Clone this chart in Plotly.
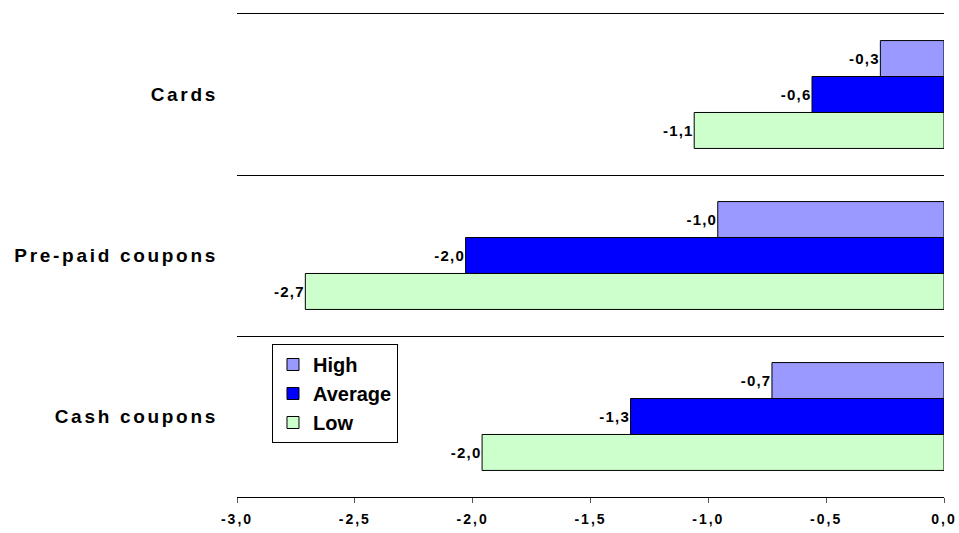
import plotly.graph_objects as go

categories = ["Cards", "Pre-paid coupons", "Cash coupons"]
series_names = ["High", "Average", "Low"]
high = [-0.27, -0.96, -0.73]
average = [-0.56, -2.03, -1.33]
low = [-1.06, -2.71, -1.96]
colors = ["#9999FF", "#0000FF", "#CCFFCC"]
x_ticks = [-3.0, -2.5, -2.0, -1.5, -1.0, -0.5, 0.0]


def fmt(v):
    return f"{v:.1f}".replace(".", ",")


FONT = "Arial, Liberation Sans, sans-serif"

fig = go.Figure()
for name, vals, col in zip(series_names, [high, average, low], colors):
    fig.add_trace(go.Bar(
        y=categories, x=vals, name=name, orientation="h",
        marker=dict(color=col, line=dict(color="black", width=1)),
        text=[fmt(v) for v in vals], textposition="outside",
        textfont=dict(family=FONT, size=15, color="black", weight="bold"),
        cliponaxis=False, legendgroup=name,
    ))

fig.update_layout(
    width=959, height=533,
    margin=dict(l=237, r=15, t=14, b=36, autoexpand=False),
    paper_bgcolor="white", plot_bgcolor="white",
    barmode="group", bargap=0.33, bargroupgap=0,
    font=dict(family=FONT, color="black"),
    legend=dict(
        x=0.0495, y=0.3168, xanchor="left", yanchor="top",
        bgcolor="white", bordercolor="black", borderwidth=1,
        font=dict(family=FONT, size=20, color="black", weight="bold"),
        tracegroupgap=0,
    ),
    xaxis=dict(
        range=[-3, 0], tickvals=x_ticks, ticktext=[fmt(v) for v in x_ticks],
        showgrid=False, zeroline=False, automargin=False,
        showline=True, linecolor="black", linewidth=1, mirror=True,
        ticks="outside", ticklen=5, tickcolor="#555",
        ticklabelstandoff=4,
        tickfont=dict(family=FONT, size=14, color="black", weight="bold"),
    ),
    yaxis=dict(
        categoryorder="array", categoryarray=categories,
        autorange="reversed", tickson="boundaries", automargin=False,
        showgrid=True, gridcolor="black", gridwidth=1,
        ticks="", showline=False, zeroline=False,
        ticklabelstandoff=18,
        tickfont=dict(family=FONT, size=19, color="black", weight="bold"),
    ),
    yaxis2=dict(
        overlaying="y", side="right", showline=True, linecolor="#808080",
        linewidth=2, showticklabels=False, showgrid=False, zeroline=False,
        ticks="", range=[0, 1], automargin=False,
    ),
)

post = """
document.documentElement.style.overflow = 'hidden';
document.body.style.margin = '0';
document.body.style.overflow = 'hidden';
var gd = document.getElementById('{plot_id}');
gd.querySelectorAll('.ytick text').forEach(function(t){t.setAttribute('letter-spacing','2.7px');});
gd.querySelectorAll('.xtick text').forEach(function(t){t.setAttribute('letter-spacing','2px');});
gd.querySelectorAll('text.bartext').forEach(function(t){t.setAttribute('letter-spacing','1.2px');});
"""

fig.write_html("out.html", post_script=post, config={"displayModeBar": False})
